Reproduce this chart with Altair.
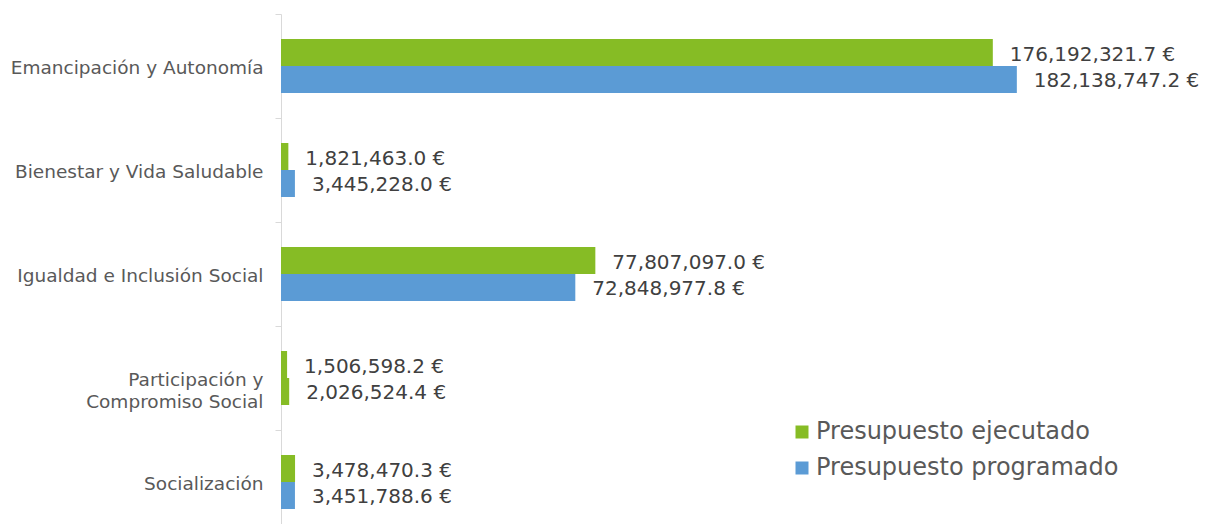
import altair as alt
import pandas as pd

categories = [
    "Emancipación y Autonomía",
    "Bienestar y Vida Saludable",
    "Igualdad e Inclusión Social",
    "Participación y Compromiso Social",
    "Socialización",
]
ejecutado = [176192321.7, 1821463.0, 77807097.0, 1506598.2, 3478470.3]
programado = [182138747.2, 3445228.0, 72848977.8, 2026524.4, 3451788.6]
series = ["Presupuesto ejecutado", "Presupuesto programado"]

rows = []
for i, c in enumerate(categories):
    rows.append({"cat": c, "series": series[0], "value": ejecutado[i], "ck": series[0]})
    ck = series[1] + " " if c == "Participación y Compromiso Social" else series[1]
    rows.append({"cat": c, "series": series[1], "value": programado[i], "ck": ck})
df = pd.DataFrame(rows)

GREEN = "#86bc25"
BLUE = "#5b9bd5"
FONT = "DejaVu Sans"

y = alt.Y("cat:N", sort=categories, title=None,
          scale=alt.Scale(paddingInner=0, paddingOuter=0),
          axis=alt.Axis(tickBand="extent", domainColor="#d9d9d9", tickColor="#d9d9d9",
                        tickSize=6, labelPadding=12, labelFontSize=18.5, labelColor="#595959",
                        labelFont=FONT, labelLineHeight=22, labelLimit=400, labelOffset=1,
                        labelExpr="datum.label == 'Participación y Compromiso Social' ? ['Participación y\u2007\u2007', 'Compromiso Social'] : datum.label"))
yoff = alt.YOffset("series:N", sort=series, scale=alt.Scale(paddingInner=0, paddingOuter=0.926))
x = alt.X("value:Q", title=None, scale=alt.Scale(domain=[0, 200000000]), axis=None)

bars = alt.Chart(df).mark_bar().encode(
    x=x, y=y, yOffset=yoff,
    color=alt.Color("ck:N",
                    scale=alt.Scale(domain=[series[0], series[1], series[1] + " "],
                                    range=[GREEN, BLUE, GREEN]),
                    legend=alt.Legend(values=series, title=None, orient="none",
                                      legendX=509, legendY=406, symbolType="square",
                                      symbolSize=169, symbolStrokeWidth=0,
                                      labelFontSize=24, labelFont=FONT, labelColor="#595959",
                                      labelLimit=500, rowPadding=12, padding=0, labelOffset=2)),
)

labels = alt.Chart(df).transform_calculate(
    lbl="format(datum.value, ',.1f') + ' €'"
).mark_text(align="left", baseline="middle", dx=17, dy=2, fontSize=20, font=FONT,
            color="#404040").encode(
    x=x, y=y, yOffset=yoff, text="lbl:N"
)

chart = alt.layer(bars, labels).properties(
    width=808, height=520,
    autosize=alt.AutoSizeParams(type="none"),
    padding={"left": 273, "top": 6, "right": 110, "bottom": 0},
).configure_view(stroke=None)

chart.save("out.html", embed_options={"renderer": "svg", "actions": False})
